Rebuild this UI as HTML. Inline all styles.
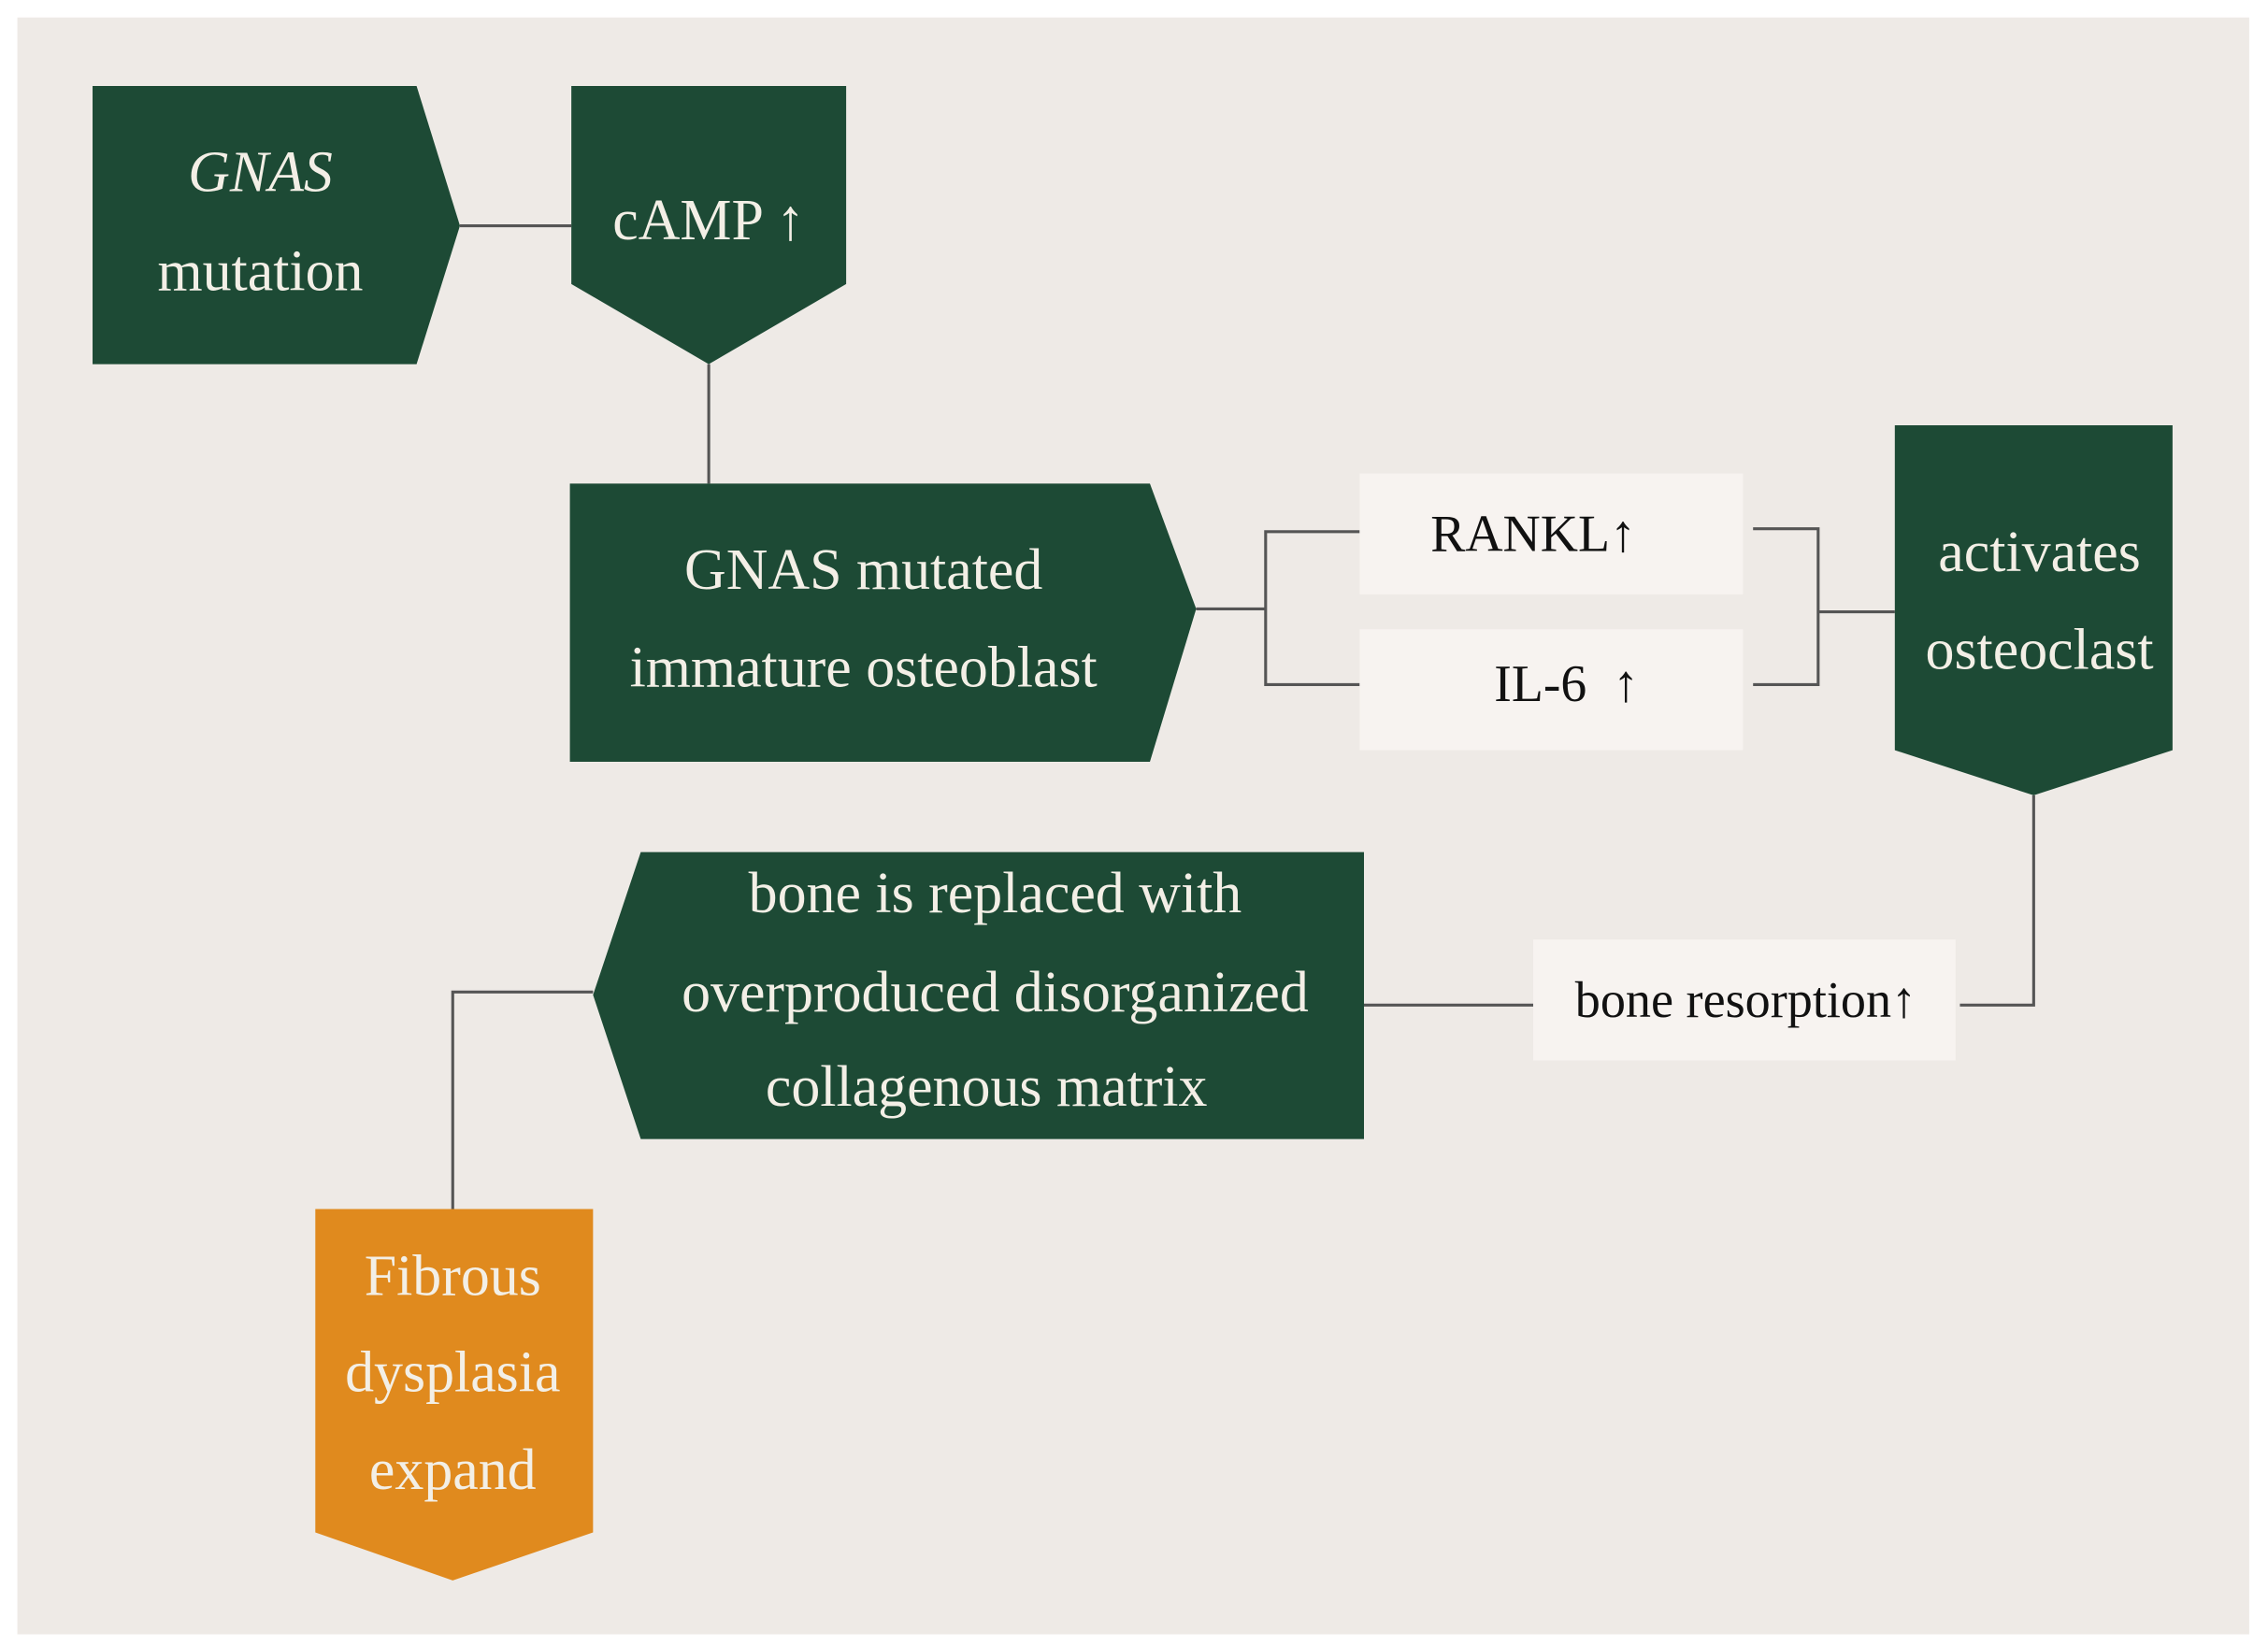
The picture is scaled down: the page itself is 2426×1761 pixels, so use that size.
<!DOCTYPE html>
<html><head><meta charset="utf-8"><style>
html,body{margin:0;padding:0;background:#fff;}
svg{display:block;}
text{font-family:"Liberation Serif",serif;}
</style></head><body>
<svg width="2426" height="1761" viewBox="0 0 1568 1130" preserveAspectRatio="none" xmlns="http://www.w3.org/2000/svg">
<rect x="0" y="0" width="1568" height="1130" fill="#ffffff"/>
<rect x="12" y="12" width="1543" height="1110" fill="#eeeae6"/>
<g stroke="#555" stroke-width="2" fill="none">
<line x1="318" y1="155" x2="395" y2="155"/>
<line x1="490" y1="250" x2="490" y2="332"/>
<polyline points="827,418 875,418"/>
<polyline points="940,365 875,365 875,470 940,470"/>
<polyline points="1212,363 1257,363 1257,470 1212,470"/>
<line x1="1257" y1="420" x2="1310" y2="420"/>
<polyline points="1406,546 1406,690 1355,690"/>
<line x1="943" y1="690" x2="1060" y2="690"/>
<polyline points="410,681 313,681 313,830"/>
</g>
<g fill="#1d4a35">
<polygon points="64,59 288,59 318,155 288,250 64,250"/>
<polygon points="395,59 585,59 585,195 490,250 395,195"/>
<polygon points="394,332 795,332 827,418 795,523 394,523"/>
<polygon points="1310,292 1502,292 1502,515 1406,546 1310,515"/>
<polygon points="443,585 943,585 943,782 443,782 410,683"/>
</g>
<polygon fill="#e08a1e" points="218,830 410,830 410,1052 313,1085 218,1052"/>
<g fill="#f7f3f0">
<rect x="940" y="325" width="265" height="83"/>
<rect x="940" y="432" width="265" height="83"/>
<rect x="1060" y="645" width="292" height="83"/>
</g>
<g fill="#f3efe6" font-size="40" text-anchor="middle" dominant-baseline="middle">
<text x="180" y="122" font-style="italic">GNAS</text>
<text x="180" y="190">mutation</text>
<text x="490" y="155">cAMP ↑</text>
<text x="597" y="395">GNAS mutated</text>
<text x="597" y="462">immature osteoblast</text>
<text x="1410" y="383">activates</text>
<text x="1410" y="450">osteoclast</text>
<text x="688" y="617">bone is replaced with</text>
<text x="688" y="685">overproduced disorganized</text>
<text x="682" y="750">collagenous matrix</text>
<text x="313" y="880">Fibrous</text>
<text x="313" y="946">dysplasia</text>
<text x="313" y="1013">expand</text>
</g>
<g fill="#111" text-anchor="middle" dominant-baseline="middle">
<text x="1060" y="370" font-size="36">RANKL↑</text>
<text x="1083" y="473" font-size="36">IL-6 &#160;↑</text>
<text x="1207" y="690" font-size="35">bone resorption↑</text>
</g>
</svg>
</body></html>
